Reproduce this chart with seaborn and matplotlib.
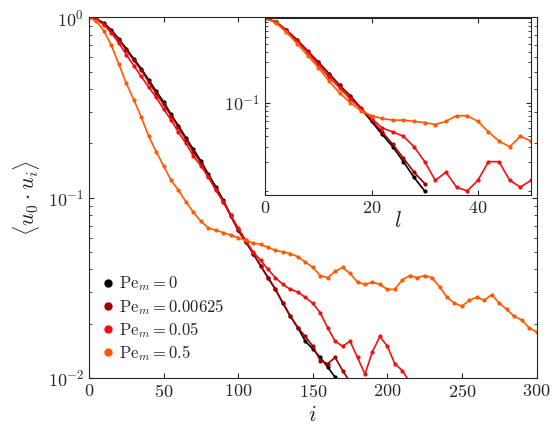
import numpy as np
import matplotlib
matplotlib.use("Agg")
import matplotlib.pyplot as plt
import seaborn as sns

sns.set_style("ticks")
plt.rcParams['font.family'] = ['cmr10', 'DejaVu Serif']
plt.rcParams['mathtext.fontset'] = 'cm'
plt.rcParams['axes.formatter.use_mathtext'] = True

# main panel, i in steps of 5
i_main = np.arange(0, 305, 5)
pe0 = [1, 0.98, 0.93, 0.85, 0.76, 0.67, 0.59, 0.52, 0.45, 0.39, 0.34, 0.29, 0.25, 0.215, 0.185,
       0.16, 0.135, 0.115, 0.097, 0.08, 0.066, 0.057, 0.049, 0.042, 0.036, 0.031, 0.026, 0.022,
       0.019, 0.016, 0.0145, 0.013, 0.0115, 0.0101]
pe1 = [1, 0.98, 0.92, 0.84, 0.75, 0.66, 0.58, 0.51, 0.44, 0.38, 0.33, 0.285, 0.245, 0.21, 0.18,
       0.156, 0.132, 0.112, 0.095, 0.079, 0.066, 0.057, 0.049, 0.042, 0.036, 0.031, 0.026, 0.022,
       0.019, 0.017, 0.015, 0.0125, 0.012, 0.013, 0.011, 0.0095]
pe2 = [1, 0.97, 0.91, 0.82, 0.72, 0.62, 0.54, 0.47, 0.41, 0.36, 0.31, 0.27, 0.23, 0.2, 0.17,
       0.15, 0.13, 0.11, 0.095, 0.08, 0.068, 0.058, 0.05, 0.045, 0.04, 0.036, 0.033, 0.031,
       0.03, 0.028, 0.026, 0.023, 0.019, 0.016, 0.015, 0.016, 0.013, 0.0105, 0.014, 0.017,
       0.015, 0.012, 0.011, 0.0095]
pe3 = [1, 0.95, 0.84, 0.7, 0.55, 0.43, 0.35, 0.28, 0.22, 0.18, 0.15, 0.125, 0.11, 0.095, 0.083,
       0.074, 0.068, 0.066, 0.064, 0.062, 0.06, 0.058, 0.056, 0.055, 0.053, 0.051, 0.05, 0.049,
       0.047, 0.044, 0.041, 0.037, 0.036, 0.039, 0.041, 0.038, 0.034, 0.033, 0.034, 0.033,
       0.031, 0.031, 0.035, 0.037, 0.036, 0.037, 0.036, 0.032, 0.028, 0.026, 0.025, 0.027,
       0.028, 0.027, 0.029, 0.026, 0.024, 0.022, 0.021, 0.019, 0.018]

# inset, l in steps of 2
l_ins = np.arange(0, 52, 2)
ins0 = [1, 0.9, 0.72, 0.55, 0.4, 0.3, 0.22, 0.16, 0.12, 0.085, 0.06, 0.042, 0.03, 0.02, 0.013, 0.009]
ins1 = [1, 0.9, 0.72, 0.55, 0.41, 0.3, 0.22, 0.16, 0.12, 0.087, 0.062, 0.045, 0.032, 0.022, 0.015, 0.011]
ins2 = [1, 0.89, 0.7, 0.53, 0.39, 0.28, 0.2, 0.15, 0.11, 0.085, 0.065, 0.05, 0.045, 0.04, 0.03,
        0.02, 0.012, 0.015, 0.01, 0.009, 0.012, 0.02, 0.02, 0.012, 0.01, 0.012]
ins3 = [1, 0.88, 0.68, 0.5, 0.36, 0.26, 0.18, 0.13, 0.1, 0.08, 0.07, 0.065, 0.062, 0.062, 0.06,
        0.058, 0.055, 0.06, 0.07, 0.07, 0.06, 0.045, 0.035, 0.03, 0.04, 0.035]

labels = [r'$\mathrm{Pe}_m = 0$', r'$\mathrm{Pe}_m = 0.00625$',
          r'$\mathrm{Pe}_m = 0.05$', r'$\mathrm{Pe}_m = 0.5$']
colors = ['black', '#a00000', '#f01010', '#ff5a00']

fig, ax = plt.subplots(figsize=(5.56, 4.32), dpi=100)
fig.subplots_adjust(left=0.16, right=0.965, top=0.96, bottom=0.125)
for ys, c, lab in zip([pe0, pe1, pe2, pe3], colors, labels):
    ax.plot(i_main[:len(ys)], ys, color=c, lw=1.2, marker='o', ms=2.0, label=lab)
ax.set_yscale('log')
ax.set_xlim(0, 300)
ax.set_ylim(0.01, 1)
ax.set_xlabel(r'$i$', fontsize=16)
ax.set_ylabel(r'$\langle u_0 \cdot u_i \rangle$', fontsize=16)
ax.tick_params(direction='in', which='both', top=True, right=True, labelsize=13)
ax.legend(loc='lower left', frameon=False, fontsize=12, handlelength=0.5,
          handletextpad=0.4, labelspacing=0.2, markerscale=2.5)
for h in ax.get_legend().get_lines():
    h.set_linestyle('none')

axin = fig.add_axes([0.477, 0.548, 0.478, 0.41])
for ys, c in zip([ins0, ins1, ins2, ins3], colors):
    axin.plot(l_ins[:len(ys)], ys, color=c, lw=1.2, marker='o', ms=2.0)
axin.set_yscale('log')
axin.set_xlim(0, 50)
axin.set_ylim(0.008, 1)
axin.set_yticks([0.1])
axin.set_yticklabels([r'$10^{-1}$'])
axin.set_xlabel(r'$l$', fontsize=16, labelpad=-4)
axin.tick_params(direction='in', which='both', top=True, right=True, labelsize=13)
axin.set_xticks([0, 20, 40])

fig.savefig('out.png', dpi=100)
